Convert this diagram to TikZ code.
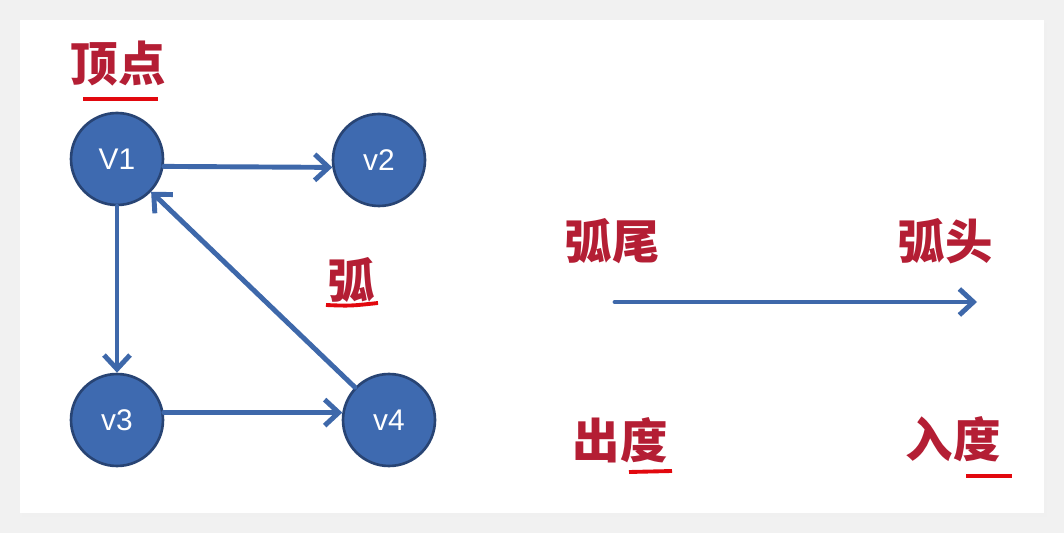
\documentclass[tikz,border=0pt]{standalone}
\usepackage{fontspec}
\setmainfont{Liberation Sans}
\newfontfamily\cjk{Noto Sans CJK SC}
\usetikzlibrary{arrows.meta,positioning}
\definecolor{vtxfill}{RGB}{62,106,176}
\definecolor{vtxline}{RGB}{40,68,116}
\definecolor{arccol}{RGB}{62,104,170}
\definecolor{lblcol}{RGB}{180,30,52}
\definecolor{ulcol}{RGB}{226,8,14}
\definecolor{bgcol}{RGB}{241,241,241}

\begin{document}
\begin{tikzpicture}[x=0.02cm, y=-0.02cm,
  vtx/.style={circle, draw=vtxline, fill=vtxfill, line width=1.5pt,
    minimum size=1.84cm, inner sep=0pt, text=white,
    font=\fontsize{17}{17}\selectfont},
  arc/.style={arccol, line width=2.8pt, line cap=round,
    -{Straight Barb[length=2.8mm,width=5.2mm,line width=2.8pt]}},
  lbl/.style={text=lblcol, inner sep=0pt,
    font=\cjk\bfseries\fontsize{27}{27}\selectfont},
  uline/.style={draw=ulcol, line width=2.2pt}]
  % page and card
  \fill[bgcol] (0,0) rectangle (1064,533);
  \fill[black!6] (22,23) rectangle (1047,517);
  \fill[white] (20,20) rectangle (1044,513);

  % vertices
  \node[vtx] (v1) at (117,159) {V1};
  \node[vtx] (v2) at (379,160) {v2};
  \node[vtx] (v3) at (117,420) {v3};
  \node[vtx] (v4) at (389,420) {v4};

  % arcs between vertices
  \draw[arc] (v1.-9) -- (v2.189);
  \draw[arc] (v1) -- (v3);
  \draw[arc] (v3.9) -- (v4.171);
  \draw[arc] (v4) -- (v1);

  % single arc: tail -> head
  \coordinate (tail) at (615,302);
  \coordinate (head) at (977,302);
  \draw[arc] (tail) -- (head);

  % labels
  \node[lbl] (vertexlbl) at (118,64) {顶点};
  \node[lbl] (arclbl) at (351,280) {弧};
  \node[lbl] (taillbl) at (612,241) {弧尾};
  \node[lbl] (headlbl) at (945,241) {弧头};
  \node[lbl] (outlbl) at (620,440) {出度};
  \node[lbl] (inlbl) at (953,439) {入度};

  % underlines
  \draw[uline] (83,99) -- (158,99);
  \draw[uline] (326,305) .. controls (350,306) .. (378,303);
  \draw[uline] (629,472) -- (672,471);
  \draw[uline] (966,476) -- (1012,476);
\end{tikzpicture}
\end{document}
